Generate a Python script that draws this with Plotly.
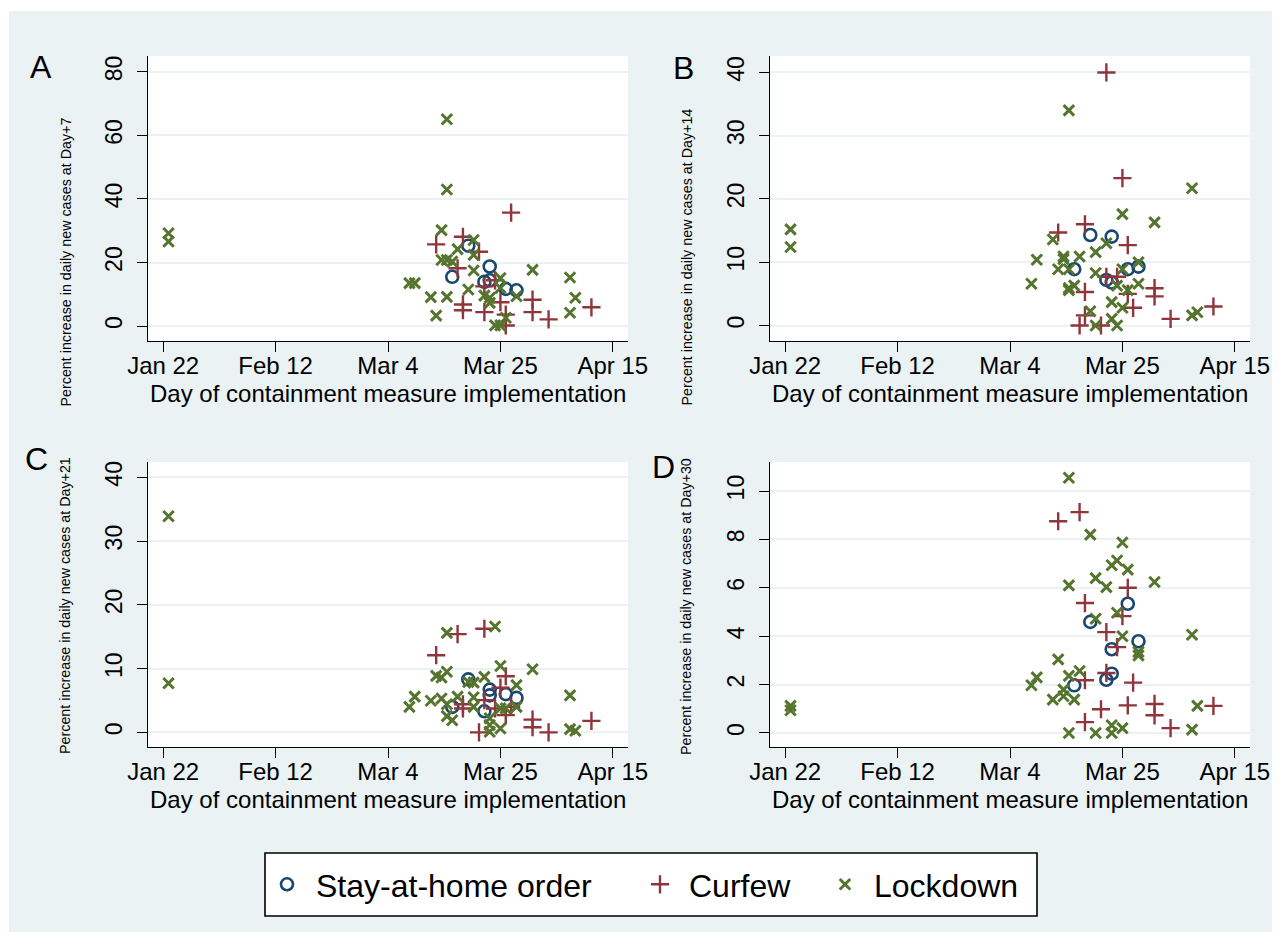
import plotly.graph_objects as go

# The page adds an 8 px body margin, so the figure is 8 px smaller and all
# reference pixel positions are shifted by -8 when converted to paper coords.
OFF = 8
W, H = 1281 - OFF, 938 - OFF

# ---------------- Data ----------------
# Panel A: Day+7
a_stay_dates = ["2020-03-19", "2020-03-16", "2020-03-23", "2020-03-22", "2020-03-23", "2020-03-26", "2020-03-28"]
a_stay_vals = [25.3, 15.5, 18.75, 13.9, 14.4, 11.7, 11.25]
a_curf_dates = ["2020-03-27", "2020-03-18", "2020-03-13", "2020-03-21", "2020-03-17", "2020-03-22", "2020-03-24",
                "2020-03-18", "2020-03-18", "2020-03-25", "2020-03-22", "2020-03-31", "2020-03-31", "2020-04-03",
                "2020-04-11", "2020-03-26", "2020-03-26"]
a_curf_vals = [35.7, 28.1, 25.7, 23.4, 18.2, 12.5, 14.4, 6.8, 5.0, 7.5, 4.4, 8.3, 4.4, 2.1, 5.9, 3.6, 0.2]
a_lock_dates = ["2020-01-23", "2020-01-23", "2020-03-15", "2020-03-15", "2020-03-14", "2020-03-20", "2020-03-17",
                "2020-03-20", "2020-03-14", "2020-03-15", "2020-03-16", "2020-03-20", "2020-03-31", "2020-04-07",
                "2020-03-08", "2020-03-09", "2020-03-19", "2020-03-12", "2020-03-15", "2020-03-22", "2020-03-23",
                "2020-03-23", "2020-03-25", "2020-03-25", "2020-03-28", "2020-03-13", "2020-04-07", "2020-04-08",
                "2020-03-24", "2020-03-25", "2020-03-26"]
a_lock_vals = [29.2, 26.6, 65.1, 43.0, 30.2, 27.1, 24.2, 22.4, 20.8, 20.8, 20.3, 17.5, 17.7, 15.3, 13.5, 13.5,
               11.5, 9.1, 9.2, 9.6, 8.9, 7.3, 15.1, 12.0, 9.4, 3.3, 4.2, 8.9, 0.2, 0.2, 2.6]

# Panel B: Day+14
b_stay_dates = ["2020-03-19", "2020-03-23", "2020-03-16", "2020-03-26", "2020-03-28", "2020-03-22", "2020-03-23"]
b_stay_vals = [14.3, 14.05, 8.9, 8.9, 9.3, 7.2, 6.8]
b_curf_dates = ["2020-03-22", "2020-03-25", "2020-03-18", "2020-03-13", "2020-03-26", "2020-03-22", "2020-03-24",
                "2020-03-18", "2020-03-26", "2020-03-31", "2020-03-31", "2020-03-27", "2020-03-18", "2020-03-17",
                "2020-03-21", "2020-04-03", "2020-04-11"]
b_curf_vals = [40.0, 23.3, 16.0, 14.7, 12.7, 7.7, 7.7, 5.3, 5.0, 5.9, 4.6, 2.8, 1.6, 0.0, 0.0, 1.05, 3.0]
b_lock_dates = ["2020-01-23", "2020-01-23", "2020-03-15", "2020-04-07", "2020-03-25", "2020-03-31", "2020-03-12",
                "2020-03-22", "2020-03-20", "2020-03-14", "2020-03-14", "2020-03-17", "2020-03-09", "2020-03-13",
                "2020-03-15", "2020-03-20", "2020-03-25", "2020-03-28", "2020-03-08", "2020-03-15", "2020-03-15",
                "2020-03-16", "2020-03-24", "2020-03-28", "2020-03-26", "2020-03-23", "2020-03-25", "2020-03-19",
                "2020-03-23", "2020-03-20", "2020-03-24", "2020-04-07", "2020-04-08"]
b_lock_vals = [15.2, 12.4, 34.0, 21.7, 17.6, 16.3, 13.6, 13.0, 11.6, 10.9, 10.5, 10.9, 10.4, 8.9, 8.9, 8.3, 8.9,
               10.0, 6.6, 5.9, 5.6, 6.3, 6.3, 6.6, 5.6, 3.7, 2.8, 2.25, 1.05, 0.0, 0.0, 1.6, 2.1]

# Panel C: Day+21
c_stay_dates = ["2020-03-19", "2020-03-23", "2020-03-23", "2020-03-26", "2020-03-28", "2020-03-16", "2020-03-22"]
c_stay_vals = [8.3, 6.7, 5.8, 6.0, 5.4, 4.0, 3.3]
c_curf_dates = ["2020-03-22", "2020-03-17", "2020-03-13", "2020-03-26", "2020-03-25", "2020-03-22", "2020-03-18",
                "2020-03-18", "2020-03-24", "2020-03-26", "2020-03-27", "2020-03-31", "2020-03-31", "2020-03-21",
                "2020-04-03", "2020-04-11"]
c_curf_vals = [16.25, 15.4, 12.1, 8.8, 7.0, 5.05, 4.4, 3.75, 3.75, 2.7, 4.0, 2.0, 0.8, 0.0, 0.0, 1.8]
c_lock_dates = ["2020-01-23", "2020-01-23", "2020-03-24", "2020-03-15", "2020-03-25", "2020-03-31", "2020-03-13",
                "2020-03-14", "2020-03-15", "2020-03-19", "2020-03-20", "2020-03-22", "2020-03-28", "2020-03-09",
                "2020-03-08", "2020-03-12", "2020-03-14", "2020-03-17", "2020-03-20", "2020-03-15", "2020-03-15",
                "2020-03-16", "2020-03-20", "2020-03-25", "2020-03-26", "2020-03-28", "2020-03-23", "2020-03-23",
                "2020-03-23", "2020-03-25", "2020-04-07", "2020-04-07", "2020-04-08"]
c_lock_vals = [33.9, 7.7, 16.6, 15.6, 10.4, 9.9, 8.85, 8.6, 9.5, 7.9, 7.8, 8.7, 7.4, 5.6, 4.0, 4.95, 5.3, 5.6,
               5.5, 4.4, 2.55, 1.9, 4.0, 3.75, 3.75, 4.0, 2.2, 1.15, 0.1, 0.6, 5.8, 0.5, 0.25]

# Panel D: Day+30
d_stay_dates = ["2020-03-26", "2020-03-19", "2020-03-28", "2020-03-23", "2020-03-23", "2020-03-22", "2020-03-16"]
d_stay_vals = [5.34, 4.59, 3.79, 3.46, 2.45, 2.2, 1.97]
d_curf_dates = ["2020-03-17", "2020-03-13", "2020-03-26", "2020-03-18", "2020-03-25", "2020-03-22", "2020-03-24",
                "2020-03-22", "2020-03-18", "2020-03-27", "2020-03-21", "2020-03-26", "2020-03-31", "2020-03-31",
                "2020-03-18", "2020-04-03", "2020-04-11"]
d_curf_vals = [9.13, 8.75, 6.0, 5.37, 4.83, 4.17, 3.55, 2.48, 2.18, 2.08, 0.98, 1.14, 1.2, 0.73, 0.45, 0.2, 1.12]
d_lock_dates = ["2020-01-23", "2020-01-23", "2020-03-15", "2020-03-19", "2020-03-25", "2020-03-24", "2020-03-23",
                "2020-03-26", "2020-03-20", "2020-03-15", "2020-03-22", "2020-03-31", "2020-03-24", "2020-03-20",
                "2020-03-25", "2020-04-07", "2020-03-28", "2020-03-28", "2020-03-13", "2020-03-09", "2020-03-08",
                "2020-03-15", "2020-03-17", "2020-03-14", "2020-03-14", "2020-03-12", "2020-03-16", "2020-04-08",
                "2020-04-07", "2020-03-15", "2020-03-20", "2020-03-23", "2020-03-23", "2020-03-25"]
d_lock_vals = [1.12, 0.94, 10.55, 8.2, 7.87, 7.13, 6.93, 6.75, 6.4, 6.1, 6.03, 6.24, 4.97, 4.72, 4.0, 4.06, 3.35,
               3.2, 3.04, 2.3, 1.97, 2.36, 2.56, 1.79, 1.52, 1.38, 1.38, 1.12, 0.14, 0.0, 0.0, 0.0, 0.32, 0.2]

# Axis ticks / labels
x_tick_dates = ["2020-01-22", "2020-02-12", "2020-03-04", "2020-03-25", "2020-04-15"]
x_tick_labels = ["Jan 22", "Feb 12", "Mar 4", "Mar 25", "Apr 15"]
a_yticks = [0, 20, 40, 60, 80]
b_yticks = [0, 10, 20, 30, 40]
c_yticks = [0, 10, 20, 30, 40]
d_yticks = [0, 2, 4, 6, 8, 10]
series_names = ["Stay-at-home order", "Curfew", "Lockdown"]
panel_letters = ["A", "B", "C", "D"]
y_titles = ["Percent increase in daily new cases at Day+7",
            "Percent increase in daily new cases at Day+14",
            "Percent increase in daily new cases at Day+21",
            "Percent increase in daily new cases at Day+30"]
x_title = "Day of containment measure implementation"

# ---------------- Styling ----------------
FONT = "Liberation Sans, Arial, sans-serif"
BG = "#EAF2F3"
STAY_C = "#1A476F"
CURF_C = "#90353B"
LOCK_C = "#55752F"


def px_x(p):
    return (p - OFF) / W


def px_y(p):
    return 1 - (p - OFF) / H


# plot-area pixel boxes in screen pixels (left, right, top, bottom)
boxes = [
    (148, 628, 56, 341),
    (770, 1250, 56, 341),
    (148, 628, 462, 747),
    (770, 1250, 462, 747),
]
y_ranges = [[-4.7, 85.0], [-2.45, 42.6], [-2.3, 42.4], [-0.58, 11.2]]
x_range = ["2020-01-19 04:00", "2020-04-17 20:00"]

panels = [
    (a_stay_dates, a_stay_vals, a_curf_dates, a_curf_vals, a_lock_dates, a_lock_vals, a_yticks),
    (b_stay_dates, b_stay_vals, b_curf_dates, b_curf_vals, b_lock_dates, b_lock_vals, b_yticks),
    (c_stay_dates, c_stay_vals, c_curf_dates, c_curf_vals, c_lock_dates, c_lock_vals, c_yticks),
    (d_stay_dates, d_stay_vals, d_curf_dates, d_curf_vals, d_lock_dates, d_lock_vals, d_yticks),
]

fig = go.Figure()
layout = dict(
    width=W, height=H,
    autosize=False,
    margin=dict(l=0, r=0, t=0, b=0, pad=0, autoexpand=False),
    paper_bgcolor="white",
    plot_bgcolor="white",
    font=dict(family=FONT, color="black"),
    showlegend=True,
)

# one legend per series, sitting together inside a single framed box
legend_ids = ["legend", "legend2", "legend3"]
legend_left_px = [258, 631, 816]
for lid, lx in zip(legend_ids, legend_left_px):
    layout[lid] = dict(
        orientation="h",
        x=px_x(lx), xanchor="left",
        y=px_y(884.5), yanchor="middle",
        bgcolor="rgba(0,0,0,0)", borderwidth=0,
        font=dict(family=FONT, size=32, color="black"),
        itemwidth=48,
    )

shapes = [dict(type="rect", xref="paper", yref="paper", layer="below",
               x0=px_x(9), x1=px_x(1272), y0=px_y(932), y1=px_y(11),
               fillcolor=BG, line=dict(width=0)),
          dict(type="rect", xref="paper", yref="paper", layer="below",
               x0=px_x(265), x1=px_x(1037), y0=px_y(916), y1=px_y(853),
               fillcolor="white", line=dict(width=1.6, color="black"))]
annotations = []

letter_pos = [(41, 67), (683, 68), (36, 459), (663, 467)]
ytitle_pos = [(65, 262.5), (686, 256.5), (65, 606), (686, 606)]
xtitle_y = [393, 393, 799, 799]

for i, (sd, sv, cd, cv, ld, lv, yt) in enumerate(panels):
    n = "" if i == 0 else str(i + 1)
    xa, ya = "x" + n, "y" + n
    l, r, t, b = boxes[i]
    first = i == 0
    fig.add_trace(go.Scatter(x=sd, y=sv, mode="markers", name=series_names[0], legendgroup="s",
                             legend=legend_ids[0], showlegend=first, xaxis=xa, yaxis=ya,
                             marker=dict(symbol="circle-open", size=12, color=STAY_C,
                                         line=dict(width=2.6, color=STAY_C))))
    fig.add_trace(go.Scatter(x=cd, y=cv, mode="markers", name=series_names[1], legendgroup="c",
                             legend=legend_ids[1], showlegend=first, xaxis=xa, yaxis=ya,
                             marker=dict(symbol="cross-thin-open", size=13, color=CURF_C,
                                         line=dict(width=2.4, color=CURF_C))))
    fig.add_trace(go.Scatter(x=ld, y=lv, mode="markers", name=series_names[2], legendgroup="l",
                             legend=legend_ids[2], showlegend=first, xaxis=xa, yaxis=ya,
                             marker=dict(symbol="x-thin-open", size=10.5, color=LOCK_C,
                                         line=dict(width=3, color=LOCK_C))))

    layout["xaxis" + n] = dict(
        domain=[px_x(l), px_x(r)], anchor=ya, type="date", range=x_range,
        tickmode="array", tickvals=x_tick_dates, ticktext=x_tick_labels,
        showgrid=False, zeroline=False, showline=True, linecolor="black", linewidth=1.3,
        ticks="outside", ticklen=10, tickwidth=1.2, tickcolor="black",
        tickfont=dict(family=FONT, size=24, color="black"),
        ticklabelstandoff=-7,
        automargin=False,
    )
    layout["yaxis" + n] = dict(
        domain=[px_y(b), px_y(t)], anchor=xa, range=y_ranges[i],
        tickmode="array", tickvals=yt, tickangle=-90,
        showgrid=True, gridcolor=BG, gridwidth=2, zeroline=False,
        showline=True, linecolor="black", linewidth=1.3,
        ticks="outside", ticklen=10, tickwidth=1.2, tickcolor="black",
        tickfont=dict(family=FONT, size=23, color="black"),
        ticklabelstandoff=6,
        automargin=False,
    )
    shapes.append(dict(type="rect", xref="paper", yref="paper", layer="below",
                       x0=px_x(l), x1=px_x(r), y0=px_y(b), y1=px_y(t),
                       fillcolor="white", line=dict(width=0)))

    lx, ly = letter_pos[i]
    annotations.append(dict(text=panel_letters[i], xref="paper", yref="paper",
                            x=px_x(lx), y=px_y(ly), xanchor="center", yanchor="middle",
                            showarrow=False, font=dict(family=FONT, size=32, color="black")))
    tx, ty = ytitle_pos[i]
    annotations.append(dict(text=y_titles[i], xref="paper", yref="paper", textangle=-90,
                            x=px_x(tx), y=px_y(ty), xanchor="center", yanchor="middle",
                            showarrow=False, font=dict(family=FONT, size=14.3, color="black")))
    annotations.append(dict(text=x_title, xref="paper", yref="paper",
                            x=px_x((l + r) / 2), y=px_y(xtitle_y[i]), xanchor="center", yanchor="middle",
                            showarrow=False, font=dict(family=FONT, size=24, color="black")))

layout["shapes"] = shapes
layout["annotations"] = annotations
fig.update_layout(**layout)
fig.write_html("out.html")
